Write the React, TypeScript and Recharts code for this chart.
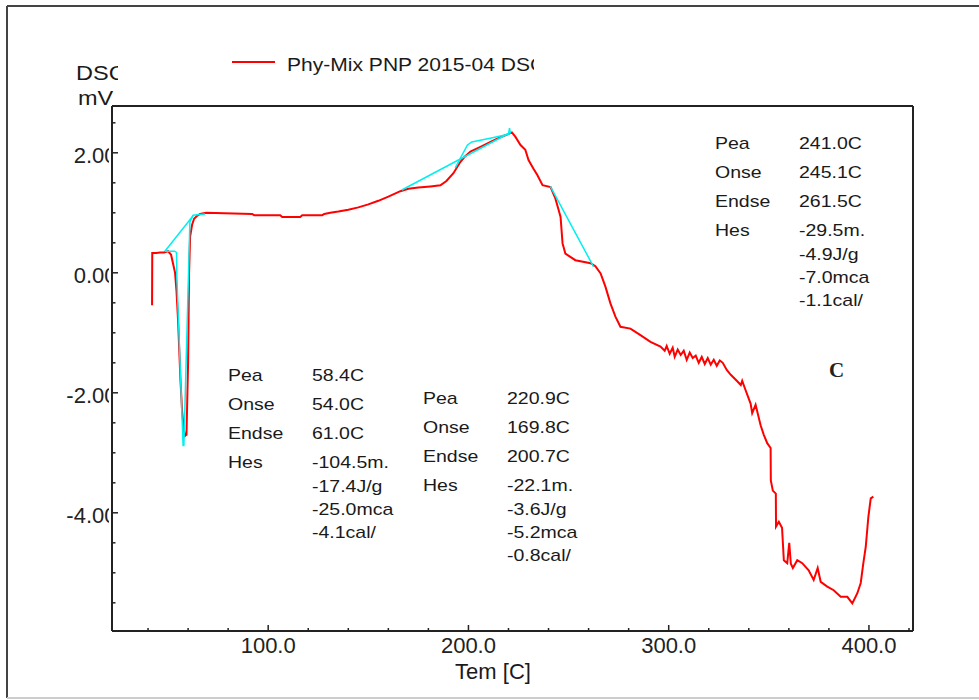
import React from 'react';
import { LineChart, Line, XAxis, YAxis, ReferenceLine } from 'recharts';

// DSC trace (temperature in C, signal in mV)
const dscTemp = [
  42, 42.1, 44, 46, 48, 50, 51.5, 52.5, 53.5, 54.2, 55, 55.6, 56.2, 57, 57.8, 58.4, 59.2, 60, 60.5, 61, 62, 63, 64.5, 66, 69,
  92, 93, 106, 107, 116, 117, 127, 128, 131, 135, 140, 145, 150, 155, 160, 166, 170, 175, 181, 186, 189, 192.5, 196, 198,
  201, 206, 211, 216, 219, 221.7, 223.4, 226, 228.4, 230, 232.4, 234.4, 237, 241, 243.4, 245, 246, 247, 248.4, 253.4, 261,
  263.4, 266, 268.4, 270.9, 273.4, 275.9, 280.9, 285.9, 290.9, 295.9, 298, 299, 300.5, 302, 303, 304.5, 306, 307.5, 309,
  310.5, 312, 313.5, 315, 316.5, 318, 319.5, 321, 322.5, 324, 325.5, 327, 329, 331, 334, 336, 336.7, 338, 340.9, 341.7,
  343.4, 345.9, 347.5, 349.2, 350.9, 351, 352, 353.5, 353.6, 355, 356.6, 357.5, 359.2, 360.2, 361, 362, 364.2, 366.7, 369.9,
  372.4, 374.4, 375.9, 379.2, 382.4, 385.9, 389.2, 391.7, 394.2, 395.9, 397.2, 398.4, 399.7, 400.9, 402.2,
];
const dscValue = [
  -0.54, 0.33, 0.33, 0.34, 0.34, 0.36, 0.3, 0.15, 0.0, -0.3, -0.8, -1.3, -1.8, -2.3, -2.6, -2.72, -2.7, -1.5, 0.0, 0.6, 0.8, 0.9, 0.95, 0.98, 1.0,
  0.98, 0.96, 0.96, 0.93, 0.93, 0.96, 0.96, 0.98, 1.0, 1.02, 1.05, 1.09, 1.14, 1.2, 1.27, 1.36, 1.4, 1.42, 1.44, 1.46, 1.53, 1.66, 1.85, 1.93,
  2.02, 2.1, 2.18, 2.26, 2.3, 2.34, 2.27, 2.13, 2.05, 1.88, 1.74, 1.63, 1.46, 1.43, 1.24, 1.05, 0.93, 0.49, 0.32, 0.21, 0.16,
  0.11, -0.01, -0.23, -0.51, -0.73, -0.9, -0.93, -1.04, -1.15, -1.23, -1.3, -1.22, -1.35, -1.25, -1.4, -1.28, -1.37, -1.3, -1.45,
  -1.33, -1.42, -1.38, -1.5, -1.4, -1.52, -1.42, -1.53, -1.45, -1.55, -1.46, -1.5, -1.62, -1.7, -1.8, -1.87, -1.8, -1.92, -2.18, -2.34,
  -2.2, -2.54, -2.7, -2.84, -2.92, -3.46, -3.63, -3.68, -4.23, -4.15, -4.25, -4.79, -4.84, -4.5, -4.85, -4.92, -4.79, -4.84, -4.96,
  -5.12, -4.92, -5.15, -5.23, -5.29, -5.4, -5.4, -5.51, -5.34, -5.17, -4.84, -4.57, -4.07, -3.76, -3.73,
];

// peak integration lines (cyan)
const peak1Temp = [48.4, 53.2, 54.2, 54.4, 57.5, 57.9, 60.9, 62.5, 68.5];
const peak1Value = [0.36, 0.36, 0.34, -0.07, -2.88, -2.88, 0.85, 0.96, 0.98];
const base1Temp = [48.4, 62.5];
const base1Value = [0.36, 0.95];
const peak2Temp = [193.4, 199.5, 201.7, 212, 220, 220.5, 221];
const peak2Value = [1.75, 2.13, 2.18, 2.25, 2.31, 2.41, 2.32];
const base2Temp = [166.7, 220.5];
const base2Value = [1.38, 2.33];
const base3Temp = [240.9, 262.5];
const base3Value = [1.44, 0.1];

const xTicks = [40, 60, 80, 100, 120, 140, 160, 180, 200, 220, 240, 260, 280, 300, 320, 340, 360, 380, 400, 420];
const xLabels: Record<string, string> = { '100': '100.0', '200': '200.0', '300': '300.0', '400': '400.0' };
const yTicks = [-5.5, -5, -4.5, -4, -3.5, -3, -2.5, -2, -1.5, -1, -0.5, 0, 0.5, 1, 1.5, 2, 2.5];
const yLabels: Record<string, string> = { '2': '2.00', '0': '0.00', '-2': '-2.00', '-4': '-4.00' };

const fieldNames = ['Pea', 'Onse', 'Endse', 'Hes'];
const peak1Info = ['58.4C', '54.0C', '61.0C', '-104.5m.', '-17.4J/g', '-25.0mca', '-4.1cal/'];
const peak2Info = ['220.9C', '169.8C', '200.7C', '-22.1m.', '-3.6J/g', '-5.2mca', '-0.8cal/'];
const peak3Info = ['241.0C', '245.1C', '261.5C', '-29.5m.', '-4.9J/g', '-7.0mca', '-1.1cal/'];

const zip = (xs: number[], ys: number[]) => xs.map((x, i) => ({ t: x, v: ys[i] }));

const FONT = '"Liberation Sans", Arial, sans-serif';
const AXIS_X = 112;

const XTick = (props: any) => {
  const { x, y, payload } = props;
  const major = payload.value % 100 === 0;
  const label = xLabels[String(payload.value)];
  return (
    <g>
      <line x1={x} x2={x} y1={y} y2={y - (major ? 6 : 3)} stroke="#222" strokeWidth={1.5} />
      {label && (
        <text x={x} y={y + 22} textAnchor="middle" fontSize={22} fontFamily={FONT} fill="#222">
          {label}
        </text>
      )}
    </g>
  );
};

const YTick = (props: any) => {
  const { x, y, payload } = props;
  const label = yLabels[String(payload.value)];
  return (
    <g>
      <line x1={x} x2={x + (label ? 6 : 3.5)} y1={y} y2={y} stroke="#222" strokeWidth={1.5} />
      {label && (
        <g clipPath="url(#ylabclip)">
          <text x={x + 4.5} y={y + 10.5} textAnchor="end" fontSize={22} fontFamily={FONT} fill="#222">
            {label}
          </text>
        </g>
      )}
    </g>
  );
};

const InfoBlock = ({ x, y, values }: { x: number; y: number; values: string[] }) => {
  const offsets = [0, 29, 58, 87, 110.5, 133.5, 156.5];
  return (
    <g fontFamily={FONT} fontSize={16} fill="#1a1a1a">
      {fieldNames.map((n, i) => (
        <text key={n} transform={`translate(${x},${y + offsets[i]}) scale(1.22,1)`}>{n}</text>
      ))}
      {values.map((v, i) => (
        <text key={v} transform={`translate(${x + 84},${y + offsets[i]}) scale(1.22,1)`}>{v}</text>
      ))}
    </g>
  );
};

export default function App() {
  return (
    <div style={{ position: 'absolute', left: 0, top: 0, width: 979, height: 700, background: '#fff' }}>
      <svg width={979} height={700} style={{ position: 'absolute', left: 0, top: 0 }}>
        <defs>
          <clipPath id="ylabclip" clipPathUnits="userSpaceOnUse">
            <rect x={0} y={0} width={AXIS_X - 3} height={700} />
          </clipPath>
          <clipPath id="dscclip" clipPathUnits="userSpaceOnUse">
            <rect x={0} y={0} width={118} height={100} />
          </clipPath>
          <clipPath id="legclip" clipPathUnits="userSpaceOnUse">
            <rect x={0} y={0} width={534} height={100} />
          </clipPath>
        </defs>
        <line x1={7} y1={6} x2={979} y2={6} stroke="#444" strokeWidth={2} />
        <line x1={7} y1={6} x2={7} y2={698} stroke="#444" strokeWidth={2} />
        <line x1={7} y1={698} x2={979} y2={698} stroke="#ccc" strokeWidth={2} />
      </svg>
      <div style={{ position: 'absolute', left: 0, top: 0 }}>
        <LineChart width={979} height={700} margin={{ top: 106, right: 66, bottom: 29, left: AXIS_X - 60 }}>
          <XAxis
            dataKey="t"
            type="number"
            domain={[22, 422]}
            allowDataOverflow
            ticks={xTicks}
            interval={0}
            height={40}
            tickSize={0}
            tickMargin={0}
            tickLine={false}
            axisLine={{ stroke: '#222', strokeWidth: 2 }}
            tick={XTick}
          />
          <YAxis
            type="number"
            domain={[-5.97, 2.78]}
            allowDataOverflow
            ticks={yTicks}
            interval={0}
            width={60}
            tickSize={0}
            tickMargin={0}
            tickLine={false}
            axisLine={{ stroke: '#222', strokeWidth: 2 }}
            tick={YTick}
          />
          <ReferenceLine y={2.78} stroke="#222" strokeWidth={2} />
          <ReferenceLine x={422} stroke="#222" strokeWidth={2} />
          <Line data={zip(dscTemp, dscValue)} dataKey="v" type="linear" stroke="#ff0000" strokeWidth={2} dot={false} isAnimationActive={false} />
          <Line data={zip(peak1Temp, peak1Value)} dataKey="v" type="linear" stroke="#00f0f0" strokeWidth={1.5} dot={false} isAnimationActive={false} />
          <Line data={zip(base1Temp, base1Value)} dataKey="v" type="linear" stroke="#00f0f0" strokeWidth={1.5} dot={false} isAnimationActive={false} />
          <Line data={zip(peak2Temp, peak2Value)} dataKey="v" type="linear" stroke="#00f0f0" strokeWidth={1.5} dot={false} isAnimationActive={false} />
          <Line data={zip(base2Temp, base2Value)} dataKey="v" type="linear" stroke="#00f0f0" strokeWidth={1.5} dot={false} isAnimationActive={false} />
          <Line data={zip(base3Temp, base3Value)} dataKey="v" type="linear" stroke="#00f0f0" strokeWidth={1.5} dot={false} isAnimationActive={false} />
        </LineChart>
      </div>
      <svg width={979} height={700} style={{ position: 'absolute', left: 0, top: 0, pointerEvents: 'none' }}>
        <g fontFamily={FONT} fill="#1a1a1a">
          <g clipPath="url(#dscclip)">
            <text transform="translate(76,80) scale(1.12,1)" fontSize={21}>DSC</text>
          </g>
          <text transform="translate(78,105) scale(1.12,1)" fontSize={21}>mV</text>
          <line x1={232} x2={275} y1={62} y2={62} stroke="#ff0000" strokeWidth={2} />
          <g clipPath="url(#legclip)">
            <text transform="translate(287,71) scale(1.17,1)" fontSize={18}>Phy-Mix PNP 2015-04 DSC</text>
          </g>
          <text x={493} y={679} textAnchor="middle" fontSize={22}>Tem [C]</text>
        </g>
        <InfoBlock x={228} y={381} values={peak1Info} />
        <InfoBlock x={423} y={404} values={peak2Info} />
        <InfoBlock x={715} y={149} values={peak3Info} />
        <text x={829} y={377} fontFamily='"Liberation Serif", "Times New Roman", serif' fontWeight="bold" fontSize={21} fill="#222">C</text>
      </svg>
    </div>
  );
}
